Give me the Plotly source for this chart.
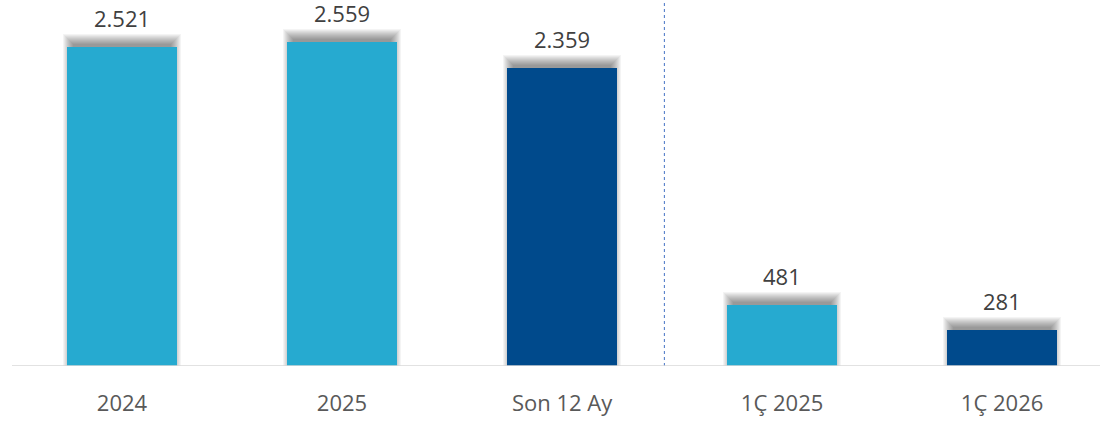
import plotly.graph_objects as go

categories = ["2024", "2025", "Son 12 Ay", "1Ç 2025", "1Ç 2026"]
values = [2521, 2559, 2359, 481, 281]
value_labels = ["2.521", "2.559", "2.359", "481", "281"]
bar_colors = ["#26AAD0", "#26AAD0", "#004A8C", "#26AAD0", "#004A8C"]

x = list(range(len(categories)))
ymax = 2893
px = ymax / 366.0   # data units per pixel (vertical)
pxx = 1 / 220.0     # data units per pixel (horizontal)

fig = go.Figure()

# soft blurred shadow around the bar tops
for k in range(0, 11):
    fig.add_trace(go.Bar(
        x=x, y=[v + (3 + k) * px for v in values],
        width=(98 + 2 * k) * pxx,
        marker=dict(color="rgba(0,0,0,0.045)", line=dict(width=0)),
        hoverinfo="skip", showlegend=False,
    ))

fig.add_trace(go.Bar(
    x=x, y=values, width=0.5,
    marker=dict(color=bar_colors, line=dict(width=0)),
    showlegend=False,
))

for xi, v, t in zip(x, values, value_labels):
    fig.add_annotation(x=xi, y=v, text=t, showarrow=False, yanchor="middle",
                       yshift=29, font=dict(size=22, color="#404040"))

fig.add_shape(type="line", x0=2.465, x1=2.465, y0=0, y1=1, yref="paper",
              line=dict(color="#4472C4", width=1, dash="dot"))
fig.add_shape(type="line", x0=-0.5, x1=4.5, y0=0, y1=0,
              line=dict(color="#D9D9D9", width=1.5))

fig.update_layout(
    width=1100, height=423,
    margin=dict(l=0, r=0, t=0, b=57),
    barmode="overlay", bargap=0,
    plot_bgcolor="white", paper_bgcolor="white",
    font=dict(family="Segoe UI, Open Sans, sans-serif", color="#595959"),
    xaxis=dict(range=[-0.5545, 4.445], tickvals=x, ticktext=categories,
               showgrid=False, zeroline=False, showline=False, ticks="",
               tickfont=dict(size=22, color="#595959"), ticklabelstandoff=22),
    yaxis=dict(range=[0, ymax], visible=False),
)

fig.write_html("out.html", config={"displayModeBar": False},
               post_script="document.body.style.margin='0';document.body.style.overflow='hidden';")
